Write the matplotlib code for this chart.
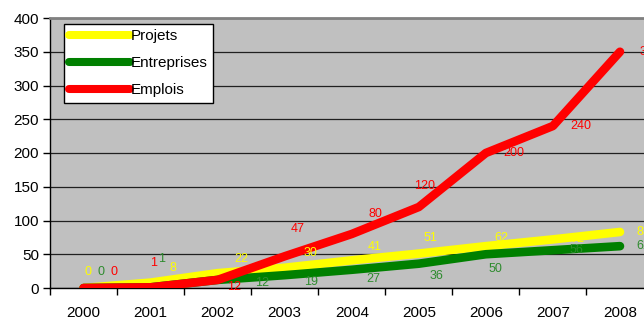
import matplotlib
matplotlib.use('Agg')
import matplotlib.pyplot as plt
from matplotlib.ticker import MultipleLocator, FixedLocator

plt.rcParams['font.family'] = ['Liberation Sans', 'DejaVu Sans']

# data
years = ['2000', '2001', '2002', '2003', '2004', '2005', '2006', '2007', '2008']
projets = [0, 8, 22, 30, 41, 51, 62, 72, 83]
entreprises = [0, 1, 12, 19, 27, 36, 50, 56, 62]
emplois = [0, 1, 12, 47, 80, 120, 200, 240, 350]

# label offsets (pixels) relative to each point
off_projets = [(4, 16), (22, 15), (24, 14), (26, 15), (23, 13), (12, 16), (16, 8), (24, 0), (23, 0)]
off_entreprises = [(17, 16), (11, 28), (44, -3), (26, -7), (22, -9), (18, -12), (10, -15), (24, 0), (23, 0)]
off_emplois = [(30, 16), (3, 24), (16, -7), (13, 27), (24, 20), (6, 21), (28, 0), (28, 0), (30, 0)]

YELLOW = '#FFFF00'
GREEN = '#008000'
RED = '#FF0000'

fig = plt.figure(figsize=(6.44, 3.18), dpi=100)
ax = fig.add_axes([50 / 644, 30 / 318, 603.5 / 644, 270 / 318])
ax.set_facecolor('#C0C0C0')

xs = list(range(len(years)))
series = [
    ('Projets', projets, YELLOW, YELLOW, off_projets),
    ('Entreprises', entreprises, GREEN, '#2E8B2E', off_entreprises),
    ('Emplois', emplois, RED, RED, off_emplois),
]

for name, vals, col, tcol, offs in series:
    ax.plot(xs, vals, color=col, lw=6.2, solid_capstyle='round',
            solid_joinstyle='round', label=name, zorder=3)

for name, vals, col, tcol, offs in series:
    for x, v, (dx, dy) in zip(xs, vals, offs):
        ax.annotate(str(v), (x, v), xytext=(dx, dy), textcoords='offset pixels',
                    ha='center', va='center', fontsize=9, color=tcol,
                    zorder=5, annotation_clip=False)

ax.set_xlim(-0.5, 8.5)
ax.set_ylim(0, 400)
ax.yaxis.set_major_locator(MultipleLocator(50))
ax.set_xticks(xs)
ax.set_xticklabels(years)
ax.xaxis.set_minor_locator(FixedLocator([x - 0.5 for x in range(len(years) + 1)]))
ax.tick_params(axis='x', which='major', length=0, pad=13, labelsize=11)
ax.tick_params(axis='x', which='minor', length=5, width=1, color='black')
ax.tick_params(axis='y', length=5, width=1, pad=3, labelsize=11)

ax.grid(axis='y', color='#202020', lw=0.9, zorder=1)
ax.set_axisbelow(True)

ax.spines['top'].set_color('#808080')
ax.spines['top'].set_linewidth(2)
ax.spines['right'].set_visible(False)
ax.spines['left'].set_color('black')
ax.spines['bottom'].set_color('black')
ax.spines['left'].set_linewidth(1)
ax.spines['bottom'].set_linewidth(1)

leg = ax.legend(loc='upper left', bbox_to_anchor=(0.023, 0.978), borderaxespad=0,
                fontsize=11, handlelength=4.0, handletextpad=0.05,
                labelspacing=0.85, borderpad=0.35, fancybox=False, framealpha=1)
leg.get_frame().set_edgecolor('black')
leg.get_frame().set_linewidth(1)
for line in leg.get_lines():
    line.set_solid_capstyle('round')
    line.set_linewidth(5.8)

fig.savefig('out.png', dpi=100, facecolor='white')
